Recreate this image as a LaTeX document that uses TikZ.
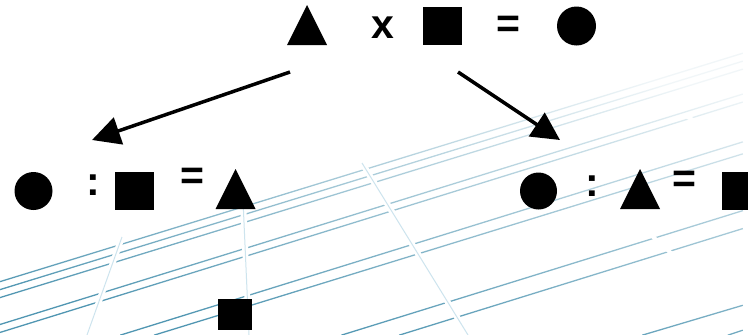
\documentclass[tikz,border=0pt]{standalone}
\usepackage{fontspec}
\setmainfont{Liberation Sans}
\usetikzlibrary{shapes.geometric,arrows.meta,fadings}
\definecolor{gridblue}{RGB}{80,150,178}
\definecolor{paleblue}{RGB}{205,228,238}
\tikzfading[name=gridfade, top color=transparent!92, middle color=transparent!35, bottom color=transparent!0]
\begin{document}
\begin{tikzpicture}[x=1pt,y=-1pt,
  sym/.style={fill=black,draw=none,inner sep=0pt,outer sep=0pt},
  sq/.style={sym,rectangle,minimum width=39pt,minimum height=38pt},
  circ/.style={sym,circle,minimum size=38pt},
  tri/.style={sym,isosceles triangle,isosceles triangle stretches,shape border rotate=90,minimum width=40pt,minimum height=40pt,anchor=south},
  op/.style={inner sep=0pt,font=\fontsize{41}{41}\selectfont\bfseries},
  gridline/.style={draw=gridblue,line width=1.3pt},
  gap/.style={draw=white,line width=6pt},
  vline/.style={draw=paleblue,line width=1pt},
  arr/.style={line width=3.5pt,-{Triangle[length=28pt,width=28pt]}}
]
\useasboundingbox (0,0) rectangle (748,335);
\fill[white] (0,0) rectangle (748,335);

% background perspective grid
\draw[gridline, path fading=gridfade, fading angle=-20]
  (0,282) -- (748,52)
  (0,290) -- (748,60)
  (0,298) -- (748,68)
  (0,325) -- (748,93)
  (0,333) -- (748,101)
  (123,335) -- (748,141)
  (157,335) -- (748,153)
  (345,335) -- (748,210)
  (403,335) -- (748,228)
  (647,335) -- (748,305)
  (733,335) -- (748,330);
\draw[gap] (122,237) -- (87,335);
\draw[gap] (243,200) -- (249,335);
\draw[gap] (362,163) -- (468,335);
\draw[gap,line width=4pt] (652,236) -- (672,254);
\draw[gap,line width=4pt] (684,115) -- (700,124);
\draw[vline] (122,237) -- (87,335);
\draw[vline] (243,200) -- (249,335);
\draw[vline] (362,163) -- (468,335);

% top equation
\node[tri] (t0) at (307,45) {};
\node[op] (x0) at (383,28) {x};
\node[sq] (s0) at (442.5,26) {};
\node[op] (e0) at (508,27) {=};
\node[circ,minimum size=39pt] (c0) at (576.5,26) {};

% left equation
\node[circ] (c1) at (33.5,191) {};
\node[op] (d1) at (93,185.5) {:};
\node[sq] (s1) at (134.5,191) {};
\node[op] (e1) at (192,178.5) {=};
\node[tri] (t1) at (235.5,209) {};
\node[sym,rectangle,minimum width=34pt,minimum height=31pt] (s3) at (235,314.5) {};

% right equation
\node[circ,minimum size=37pt] (c2) at (538.5,191) {};
\node[op] (d2) at (592,186) {:};
\node[tri] (t2) at (640,209) {};
\node[op] (e2) at (684,182) {=};
\node[sq] (s2) at (741.5,191) {};

% arrows
\coordinate (aLs) at (290,72);
\coordinate (aLe) at (92,140);
\coordinate (aRs) at (458,72);
\coordinate (aRe) at (560,140);
\draw[arr] (aLs) -- (aLe);
\draw[arr] (aRs) -- (aRe);
\end{tikzpicture}
\end{document}
